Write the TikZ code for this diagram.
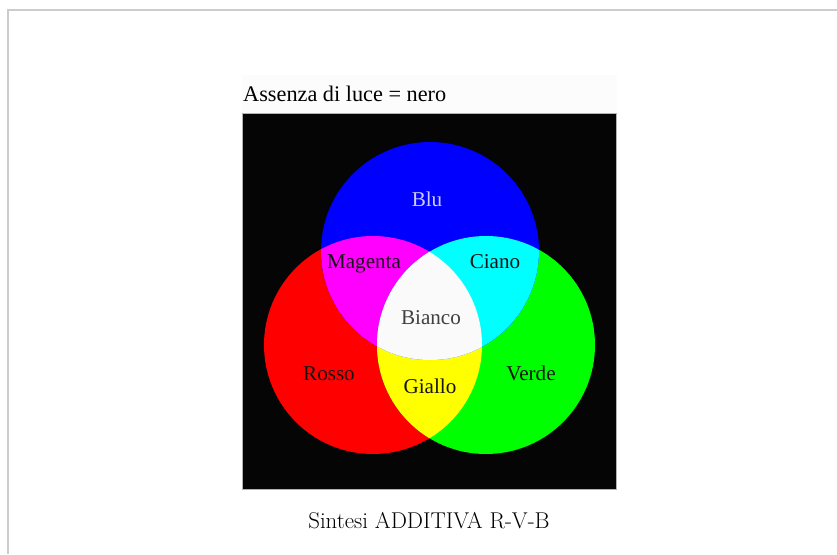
\documentclass[tikz,border=0pt]{standalone}
\usepackage{fontspec}
\newfontfamily\tempi{Liberation Serif}
\definecolor{rosso}{RGB}{255,0,0}
\definecolor{verde}{RGB}{0,255,0}
\definecolor{blu}{RGB}{0,0,255}
\definecolor{giallo}{RGB}{255,255,0}
\definecolor{magenta}{RGB}{255,0,255}
\definecolor{ciano}{RGB}{0,255,255}
\definecolor{bianco}{RGB}{250,250,250}
\def\raggio{3.27cm}
\begin{document}
\begin{tikzpicture}[x=0.03cm, y=-0.03cm,
  etichetta/.style={anchor=base, inner sep=0pt, font=\tempi\fontsize{18}{20}\selectfont, text=black!92}]
\useasboundingbox (0,0) rectangle (837,554);
\fill[white] (0,0) rectangle (837,554);
\draw[gray!40, line width=1.2pt] (8,554) -- (8,10) -- (837,10);
\fill[black!1] (242,75) rectangle (617,113);
\filldraw[fill=black!98, draw=gray!60, line width=0.6pt] (242,113) rectangle (616,489);
% cerchi primari
\fill[rosso] (373,345) circle (\raggio);
\fill[verde] (486,345) circle (\raggio);
\fill[blu] (430,251) circle (\raggio);
% sovrapposizioni
\begin{scope}
\clip (373,345) circle (\raggio);
\fill[giallo] (486,345) circle (\raggio);
\fill[magenta] (430,251) circle (\raggio);
\end{scope}
\begin{scope}
\clip (486,345) circle (\raggio);
\fill[ciano] (430,251) circle (\raggio);
\clip (373,345) circle (\raggio);
\fill[bianco] (430,251) circle (\raggio);
\end{scope}
% etichette
\node[anchor=base west, inner sep=0pt, font=\tempi\fontsize{19}{21}\selectfont] (titolo) at (243,101.5) {Assenza di luce = nero};
\node[etichetta, text=blu!20] (blu) at (427,206) {Blu};
\node[etichetta] (magenta) at (364,268) {Magenta};
\node[etichetta] (ciano) at (495,268) {Ciano};
\node[etichetta, text=black!75] (bianco) at (431,324) {Bianco};
\node[etichetta] (rosso) at (329,380) {Rosso};
\node[etichetta] (giallo) at (430,393) {Giallo};
\node[etichetta] (verde) at (531,380) {Verde};
\node[anchor=base, inner sep=0pt, font=\fontsize{19.5}{22}\selectfont] (didascalia) at (429,528) {Sintesi ADDITIVA R-V-B};
\end{tikzpicture}
\end{document}
